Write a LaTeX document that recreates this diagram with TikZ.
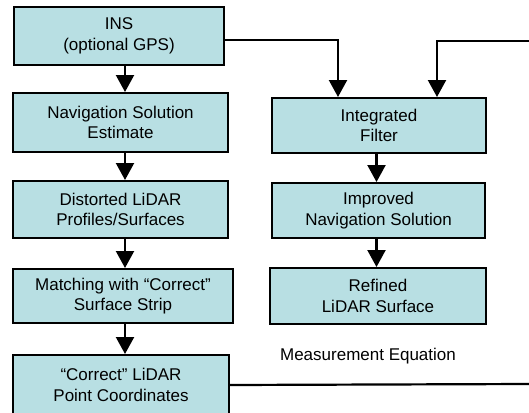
\documentclass[tikz,border=0pt]{standalone}
\usepackage{fontspec}
\setmainfont{Liberation Sans}
\usetikzlibrary{arrows.meta}
\definecolor{boxfill}{RGB}{184,223,227}
\begin{document}
\begin{tikzpicture}[x=1pt,y=-1pt,
  box/.style={draw=black,line width=2pt,fill=boxfill,rectangle,inner sep=0pt,align=center,
    font=\fontsize{17}{20.5}\selectfont},
  arr/.style={line width=2.2pt,-{Triangle[width=18pt,length=17pt]}},
  wire/.style={line width=2.2pt}]
\useasboundingbox (0,0) rectangle (529,412);
% left column
\node[box,minimum width=210pt,minimum height=58pt] (ins) at (119,36) {INS\\(optional GPS)};
\node[box,minimum width=215pt,minimum height=59pt] (nav) at (120.5,122.5) {Navigation Solution\\Estimate};
\node[box,minimum width=215pt,minimum height=57pt] (dist) at (120.5,209.5) {Distorted LiDAR\\Profiles/Surfaces};
\node[box,minimum width=220pt,minimum height=54pt] (match) at (123,296) {Matching with “Correct”\\Surface Strip};
\node[box,minimum width=216pt,minimum height=60pt] (corr) at (121,385) {“Correct” LiDAR\\Point Coordinates};
% right column
\node[box,minimum width=214pt,minimum height=55pt] (filt) at (379,125.5) {Integrated\\Filter};
\node[box,minimum width=213pt,minimum height=55pt] (impr) at (378.5,210.5) {Improved\\Navigation Solution};
\node[box,minimum width=216pt,minimum height=56pt] (ref) at (378,296) {Refined\\LiDAR Surface};
% label
\node[font=\fontsize{17}{20.5}\selectfont] (meq) at (368,356) {Measurement Equation};
% coordinates
\coordinate (xl) at (125,0);
\coordinate (xr) at (376.5,0);
\coordinate (c1) at (338,40);
\coordinate (c2) at (437,41);
\coordinate (c3) at (529,41);
\coordinate (c4) at (529,384);
% arrows left
\draw[arr] (ins.south -| xl) -- (nav.north -| xl);
\draw[arr] (nav.south -| xl) -- (dist.north -| xl);
\draw[arr] (dist.south -| xl) -- (match.north -| xl);
\draw[arr] (match.south -| xl) -- (corr.north -| xl);
% arrows right
\draw[arr] (filt.south -| xr) -- (impr.north -| xr);
\draw[arr] (impr.south -| xr) -- (ref.north -| xr);
% feed lines
\draw[arr] (ins.east |- c1) -- (c1) -- (c1 |- filt.north);
\draw[arr] (c3) -- (c2) -- (c2 |- filt.north);
\draw[wire] (corr.east) -- (c4);
\end{tikzpicture}
\end{document}
